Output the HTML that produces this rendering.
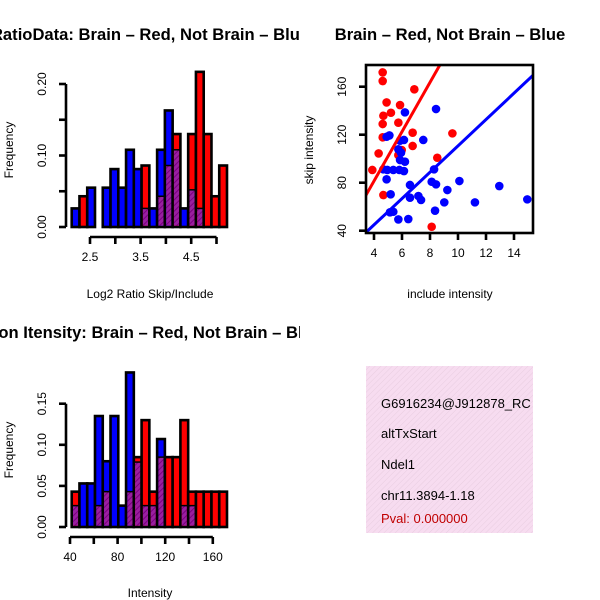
<!DOCTYPE html>
<html><head><meta charset="utf-8"><style>
html,body{margin:0;padding:0;background:#fff;}
svg{display:block;font-family:"Liberation Sans",sans-serif;}
</style></head><body>
<svg id="s" width="600" height="600" viewBox="0 0 600 600" xmlns="http://www.w3.org/2000/svg">
<defs>
<pattern id="hatch" width="4" height="4" patternUnits="userSpaceOnUse" patternTransform="rotate(45)">
<rect width="4" height="4" fill="#9a1fa0"/><line x1="0" y1="0" x2="0" y2="4" stroke="#7a007f" stroke-width="2"/>
</pattern>
<pattern id="pinkhatch" width="4" height="4" patternUnits="userSpaceOnUse" patternTransform="rotate(45)">
<rect width="4" height="4" fill="#f7dcf0"/><line x1="0" y1="0" x2="0" y2="4" stroke="#e8cde0" stroke-width="1"/>
</pattern>
<clipPath id="scClip"><rect x="366" y="65" width="167" height="168"/></clipPath>
<clipPath id="boxClip"><rect x="366" y="366" width="167" height="167"/></clipPath>
<clipPath id="leftClip"><rect x="0" y="0" width="300" height="600"/></clipPath>
</defs>
<g id="g1" clip-path="url(#leftClip)"></g>
<g id="g2"></g>
<g id="g3" clip-path="url(#leftClip)"></g>
<g>
<rect x="366" y="366" width="167" height="167" fill="url(#pinkhatch)"/>
<g clip-path="url(#boxClip)" font-size="13">
<text x="381" y="408">G6916234@J912878_RC</text>
<text x="381" y="438">altTxStart</text>
<text x="381" y="469">Ndel1</text>
<text x="381" y="500">chr11.3894-1.18</text>
<text x="381" y="523" fill="#c00000">Pval: 0.000000</text>
</g>
</g>
</svg>
<script>
// ---- Ratio histogram data ----
const ratioBlue = [0.026,0,0.055,0,0.055,0.081,0.055,0.108,0.081,0.026,0.026,0.108,0.163,0.108,0.026,0.052,0.026,0,0,0];
const ratioRed  = [0,0.043,0,0,0,0,0,0,0,0.086,0,0.043,0.086,0.13,0,0.13,0.217,0.13,0.043,0.086];
const ratioXTicks = [2.5,3,3.5,4,4.5,5];
const ratioXLabels = ["2.5","","3.5","","4.5",""];
const ratioYTicks = [0,0.05,0.1,0.15,0.2];
const ratioYLabels = ["0.00","","0.10","","0.20"];
// ---- Intensity histogram data ----
const intBlue = [0.026,0.053,0.053,0.135,0.08,0.135,0.026,0.188,0.079,0.026,0.026,0.107,0,0,0.026,0.026,0,0,0,0];
const intRed  = [0.043,0,0,0.026,0.043,0,0,0.043,0.085,0.13,0.043,0.085,0.085,0.085,0.13,0.043,0.043,0.043,0.043,0.043];
const intXTicks = [40,60,80,100,120,140,160];
const intXLabels = ["40","","80","","120","","160"];
const intYTicks = [0,0.05,0.1,0.15];
const intYLabels = ["0.00","0.05","0.10","0.15"];
// ---- Scatter data ----
const redX = [4.62,4.62,6.88,4.9,5.86,5.21,4.67,4.62,5.74,6.76,9.6,4.62,6.76,4.33,5.98,3.88,8.52,4.67,8.12,5.74];
const redY = [171.9,164.7,157.8,146.9,144.7,138.3,135.8,128.9,130,121.7,121.1,117.8,110.6,104.4,107.2,90.6,100.8,69.7,43.3,103];
const blueX = [6.21,8.43,4.9,5.1,5.86,6.14,7.52,5.74,5.93,5.86,6.21,5.81,6.14,5.38,4.67,4.95,4.9,8.29,6.57,8.12,8.43,9.24,10.1,12.95,14.95,5.19,7.17,6.57,7.36,9.02,11.21,8.36,5.14,5.38,5.74,6.45];
const blueY = [138.6,141.4,118.3,119.4,115,115.6,115.6,107.8,105,98.9,97.5,90.6,89.7,90.6,91.1,90.6,82.8,91.1,78.1,80.8,78.6,73.9,81.4,77.2,66.1,70.3,68.9,67.5,65.6,63.6,63.6,56.7,55.3,55.8,49.4,49.7];
const redFit = [-0.8,20.55];
const blueFit = [1.0,10.97];
const scXTicks = [4,6,8,10,12,14];
const scYTicks = [40,80,120,160];

const NS="http://www.w3.org/2000/svg";
function mk(tag,attrs,parent,txt){const e=document.createElementNS(NS,tag);for(const k in attrs)e.setAttribute(k,attrs[k]);if(txt!==undefined)e.textContent=txt;parent.appendChild(e);return e;}

function hist(g,blue,red,cfg){
  const yS=v=>cfg.y0-v*cfg.yk;
  const xS=v=>cfg.xa+(v-cfg.xv0)*cfg.xk;
  const bw=(cfg.x1-cfg.x0)/blue.length;
  for(let i=0;i<blue.length;i++){
    const b=blue[i],r=red[i],x=cfg.x0+i*bw;
    const mx=Math.max(b,r),mn=Math.min(b,r);
    if(mx>0){
      const el=mk('rect',{x:x,y:yS(mx),width:bw,height:mx*cfg.yk,fill:b>=r?'#0000ff':'#ff0000',stroke:'#000','stroke-width':2.6},g);
      
      
    }
    if(mn>0){
      const el=mk('rect',{x:x+1.3,y:yS(mn),width:bw-2.6,height:mn*cfg.yk-1.3,fill:'url(#hatch)',stroke:'none'},g);
      
      
      mk('line',{x1:x,x2:x+bw,y1:yS(mn),y2:yS(mn),stroke:'#000','stroke-width':1.5},g);
    }
  }
  const ya=mk('g',{},g);
  
  
  const yt=cfg.yTicks;
  mk('line',{x1:cfg.yax,x2:cfg.yax,y1:yS(yt[0]),y2:yS(yt[yt.length-1]),stroke:'#000','stroke-width':2.6},ya);
  yt.forEach((t,i)=>{mk('line',{x1:cfg.yax-7,x2:cfg.yax,y1:yS(t),y2:yS(t),stroke:'#000','stroke-width':2.6},ya);
    if(cfg.yLabels[i]){const tx=mk('text',{x:cfg.yax-20,y:yS(t),'font-size':12,'text-anchor':'middle',transform:`rotate(-90 ${cfg.yax-20} ${yS(t)})`},ya,cfg.yLabels[i]);
      
      }});
  const xa=mk('g',{},g);
  
  
  const xt=cfg.xTicks;
  mk('line',{x1:xS(xt[0]),x2:xS(xt[xt.length-1]),y1:cfg.xay,y2:cfg.xay,stroke:'#000','stroke-width':2.6},xa);
  xt.forEach((t,i)=>{mk('line',{x1:xS(t),x2:xS(t),y1:cfg.xay,y2:cfg.xay+7,stroke:'#000','stroke-width':2.6},xa);
    if(cfg.xLabels[i]){const tx=mk('text',{x:xS(t),y:cfg.xay+24,'font-size':12,'text-anchor':'middle'},xa,cfg.xLabels[i]);
      
      }});
}

const g1=document.getElementById('g1');
hist(g1,ratioBlue,ratioRed,{x0:71.7,x1:227,y0:227,yk:715,xa:90,xv0:2.5,xk:50.6,yax:66,xay:237,
  xTicks:ratioXTicks,xLabels:ratioXLabels,yTicks:ratioYTicks,yLabels:ratioYLabels});
let t;
t=mk('text',{x:150,y:40,'font-size':16.6,'font-weight':'bold','text-anchor':'middle'},g1,'RatioData: Brain – Red, Not Brain – Blue');

t=mk('text',{x:150,y:298,'font-size':12,'text-anchor':'middle'},g1,'Log2 Ratio Skip/Include');

t=mk('text',{x:13,y:150,'font-size':12,'text-anchor':'middle',transform:'rotate(-90 13 150)'},g1,'Frequency');


const g3=document.getElementById('g3');
hist(g3,intBlue,intRed,{x0:71.7,x1:227,y0:527,yk:822,xa:70,xv0:40,xk:1.19,yax:66,xay:537,
  xTicks:intXTicks,xLabels:intXLabels,yTicks:intYTicks,yLabels:intYLabels});
t=mk('text',{x:150,y:338,'font-size':16.6,'font-weight':'bold','text-anchor':'middle'},g3,'Exon Itensity: Brain – Red, Not Brain – Blue');

t=mk('text',{x:150,y:597,'font-size':12,'text-anchor':'middle'},g3,'Intensity');

t=mk('text',{x:13,y:450,'font-size':12,'text-anchor':'middle',transform:'rotate(-90 13 450)'},g3,'Frequency');


const g2=document.getElementById('g2');
const sx=v=>374+(v-4)*14, sy=v=>230.7-(v-40)*1.2;
const pts=mk('g',{'clip-path':'url(#scClip)'},g2);
function line(fit,col,name){const x0=3.4,x1=15.4;
  const l=mk('line',{x1:sx(x0),y1:sy(fit[0]+fit[1]*x0),x2:sx(x1),y2:sy(fit[0]+fit[1]*x1),stroke:col,'stroke-width':3},pts);
  }
redX.forEach((x,i)=>{const c=mk('circle',{cx:sx(x),cy:sy(redY[i]),r:4.3,fill:'#ff0000'},pts);
  });
blueX.forEach((x,i)=>{const c=mk('circle',{cx:sx(x),cy:sy(blueY[i]),r:4.3,fill:'#0000ff'},pts);
  });
line(redFit,'#ff0000','fit-line-red');
line(blueFit,'#0000ff','fit-line-blue');
mk('rect',{x:366,y:65,width:167,height:168,fill:'none',stroke:'#000','stroke-width':2.6},g2);
scXTicks.forEach(v=>{mk('line',{x1:sx(v),x2:sx(v),y1:233,y2:240,stroke:'#000','stroke-width':2.6},g2);
  const tx=mk('text',{x:sx(v),y:257,'font-size':12,'text-anchor':'middle'},g2,String(v));
  });
scYTicks.forEach(v=>{mk('line',{x1:359,x2:366,y1:sy(v),y2:sy(v),stroke:'#000','stroke-width':2.6},g2);
  const tx=mk('text',{x:346,y:sy(v),'font-size':12,'text-anchor':'middle',transform:`rotate(-90 346 ${sy(v)})`},g2,String(v));
  });
t=mk('text',{x:450,y:40,'font-size':16.6,'font-weight':'bold','text-anchor':'middle'},g2,'Brain – Red, Not Brain – Blue');

t=mk('text',{x:450,y:298,'font-size':12,'text-anchor':'middle'},g2,'include intensity');

t=mk('text',{x:313,y:150,'font-size':12,'text-anchor':'middle',transform:'rotate(-90 313 150)'},g2,'skip intensity');

</script>
</body></html>
